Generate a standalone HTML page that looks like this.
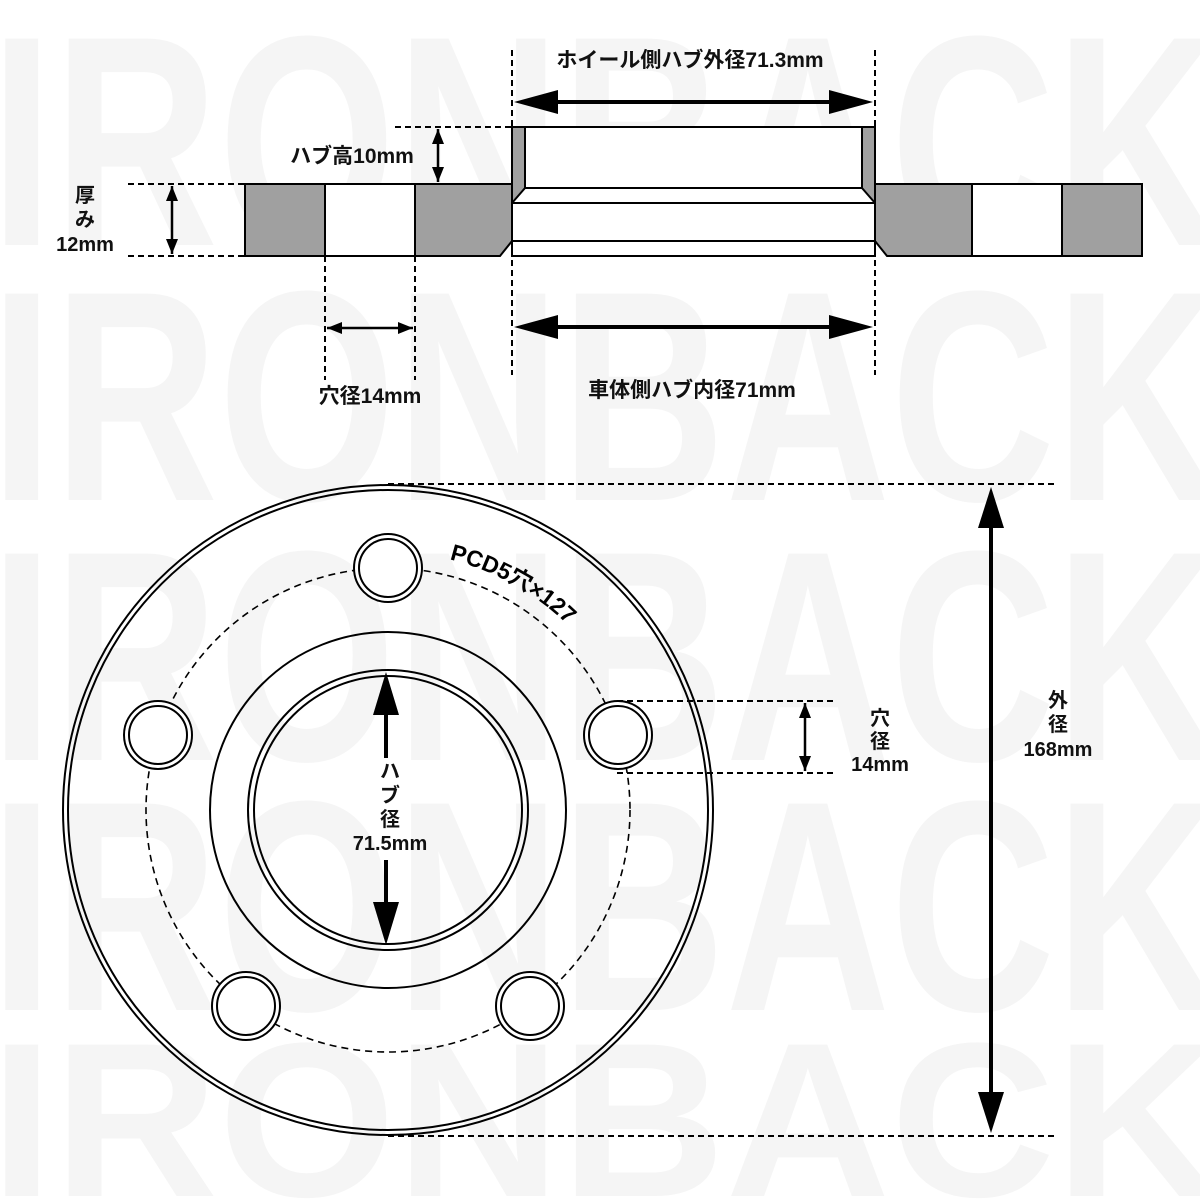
<!DOCTYPE html>
<html><head><meta charset="utf-8"><style>
html,body{margin:0;padding:0;background:#fff;width:1200px;height:1200px;overflow:hidden}
svg{display:block}
text{font-family:"Liberation Sans","Noto Sans CJK JP",sans-serif;font-weight:bold;fill:#111}
</style></head><body>
<svg width="1200" height="1200" viewBox="0 0 1200 1200" xmlns="http://www.w3.org/2000/svg" overflow="hidden">
<defs>
<marker id="a" viewBox="0 0 10 10" refX="10" refY="5" markerWidth="6" markerHeight="6" orient="auto-start-reverse"><path d="M0,1 L10,5 L0,9 z" fill="#000"/></marker>
</defs>
<g>
<text x="-10" y="245" font-size="300" textLength="1230" lengthAdjust="spacingAndGlyphs" style="fill:#f5f5f5">IRONBACK</text>
<text x="-10" y="500" font-size="300" textLength="1230" lengthAdjust="spacingAndGlyphs" style="fill:#f5f5f5">IRONBACK</text>
<text x="-10" y="760" font-size="300" textLength="1230" lengthAdjust="spacingAndGlyphs" style="fill:#f5f5f5">IRONBACK</text>
<text x="-10" y="1010" font-size="300" textLength="1230" lengthAdjust="spacingAndGlyphs" style="fill:#f5f5f5">IRONBACK</text>
<text x="-10" y="1196" font-size="220" textLength="1230" lengthAdjust="spacingAndGlyphs" style="fill:#f5f5f5">IRONBACK</text>
</g>

<!-- Top section -->
<g stroke="#000" stroke-width="2">
<rect x="245" y="184" width="80" height="72" fill="#a0a0a0"/>
<rect x="325" y="184" width="90" height="72" fill="#fff"/>
<path d="M415,184 H512 V241 L500,256 H415 Z" fill="#a0a0a0"/>
<path d="M875,184 H972 V256 H887 L875,241 Z" fill="#a0a0a0"/>
<rect x="972" y="184" width="90" height="72" fill="#fff"/>
<rect x="1062" y="184" width="80" height="72" fill="#a0a0a0"/>
<rect x="512" y="127" width="363" height="129" fill="#fff"/>
<path d="M512,127 H525 V188 L512,203 Z" fill="#a0a0a0"/>
<path d="M875,127 H862 V188 L875,203 Z" fill="#a0a0a0"/>
<line x1="525" y1="188" x2="862" y2="188"/>
<line x1="512" y1="203" x2="875" y2="203"/>
<line x1="512" y1="241" x2="875" y2="241"/>
<line x1="512" y1="127" x2="875" y2="127"/>
</g>
<g stroke="#000" stroke-width="2" stroke-dasharray="6,4" fill="none">
<line x1="128" y1="184" x2="245" y2="184"/>
<line x1="128" y1="256" x2="245" y2="256"/>
<line x1="395" y1="127" x2="512" y2="127"/>
<line x1="395" y1="184" x2="512" y2="184"/>
<line x1="325" y1="256" x2="325" y2="380"/>
<line x1="415" y1="256" x2="415" y2="380"/>
<line x1="512" y1="50" x2="512" y2="375"/>
<line x1="875" y1="50" x2="875" y2="375"/>
</g>
<g stroke="#000" stroke-width="2.5">
<line x1="172" y1="186" x2="172" y2="254" marker-start="url(#a)" marker-end="url(#a)"/>
<line x1="438" y1="129" x2="438" y2="182" marker-start="url(#a)" marker-end="url(#a)"/>
<line x1="327" y1="328" x2="413" y2="328" marker-start="url(#a)" marker-end="url(#a)"/>
</g>
<g fill="#000">
<path d="M514,102 L558,90 L558,114 Z"/><path d="M873,102 L829,90 L829,114 Z"/>
<rect x="556" y="100" width="275" height="4"/>
<path d="M514,327 L558,315 L558,339 Z"/><path d="M873,327 L829,315 L829,339 Z"/>
<rect x="556" y="325" width="275" height="4"/>
</g>
<text x="690" y="67" font-size="21" text-anchor="middle">ホイール側ハブ外径71.3mm</text>
<text x="352" y="163" font-size="21" text-anchor="middle">ハブ高10mm</text>
<text x="85" y="202" font-size="20" text-anchor="middle">厚</text>
<text x="85" y="226" font-size="20" text-anchor="middle">み</text>
<text x="85" y="251" font-size="20" text-anchor="middle">12mm</text>
<text x="370" y="403" font-size="21" text-anchor="middle">穴径14mm</text>
<text x="692" y="397" font-size="21" text-anchor="middle">車体側ハブ内径71mm</text>

<!-- Bottom section -->
<g fill="none" stroke="#000" stroke-width="2">
<circle cx="388" cy="810" r="325"/>
<circle cx="388" cy="810" r="320"/>
<circle cx="388" cy="810" r="178"/>
<circle cx="388" cy="810" r="140"/>
<circle cx="388" cy="810" r="134"/>
<circle cx="388" cy="810" r="242" stroke-dasharray="7,5" stroke-width="1.6"/>
<g fill="#fff">
<circle cx="388" cy="568" r="34"/><circle cx="388" cy="568" r="29"/>
<circle cx="618" cy="735" r="34"/><circle cx="618" cy="735" r="29"/>
<circle cx="158" cy="735" r="34"/><circle cx="158" cy="735" r="29"/>
<circle cx="530" cy="1006" r="34"/><circle cx="530" cy="1006" r="29"/>
<circle cx="246" cy="1006" r="34"/><circle cx="246" cy="1006" r="29"/>
</g>
</g>
<g stroke="#000" stroke-width="2" stroke-dasharray="6,4" fill="none">
<line x1="617" y1="701" x2="835" y2="701"/>
<line x1="617" y1="773" x2="835" y2="773"/>
<line x1="388" y1="484" x2="1055" y2="484"/>
<line x1="388" y1="1136" x2="1055" y2="1136"/>
</g>
<line x1="805" y1="703" x2="805" y2="771" stroke="#000" stroke-width="2.5" marker-start="url(#a)" marker-end="url(#a)"/>
<g fill="#000">
<path d="M991,487 L978,528 L1004,528 Z"/><path d="M991,1133 L978,1092 L1004,1092 Z"/>
<rect x="989" y="526" width="4" height="568"/>
<path d="M386,672 L373,715 L399,715 Z"/><path d="M386,945 L373,902 L399,902 Z"/>
<rect x="384" y="713" width="4" height="45"/>
<rect x="384" y="860" width="4" height="44"/>
</g>
<text x="880" y="725" font-size="20" text-anchor="middle">穴</text>
<text x="880" y="748" font-size="20" text-anchor="middle">径</text>
<text x="880" y="771" font-size="20" text-anchor="middle">14mm</text>
<text x="1058" y="707" font-size="20" text-anchor="middle">外</text>
<text x="1058" y="731" font-size="20" text-anchor="middle">径</text>
<text x="1058" y="756" font-size="20" text-anchor="middle">168mm</text>
<text x="390" y="778" font-size="20" text-anchor="middle">ハ</text>
<text x="390" y="802" font-size="20" text-anchor="middle">ブ</text>
<text x="390" y="826" font-size="20" text-anchor="middle">径</text>
<text x="390" y="850" font-size="20" text-anchor="middle">71.5mm</text>
<path id="pcd" d="M388,552 A258,258 0 0 1 646,810" fill="none"/>
<text font-size="23" style="font-weight:bold;fill:#000"><textPath href="#pcd" startOffset="62">PCD5穴×127</textPath></text>
</svg>
</body></html>
